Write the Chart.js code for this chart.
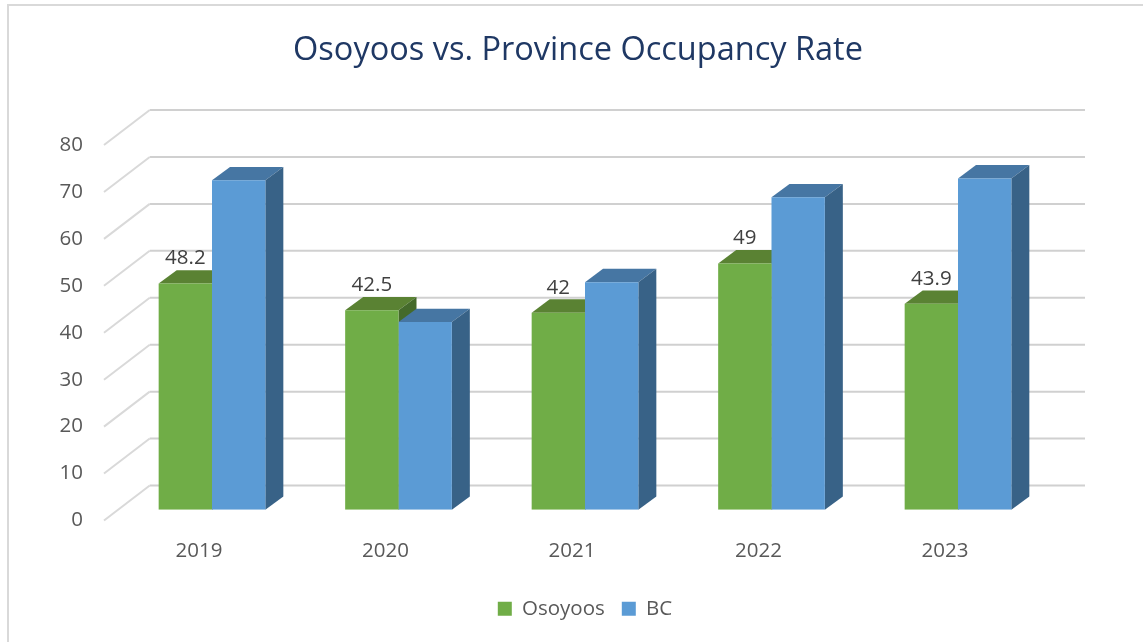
<!DOCTYPE html>
<html>
<head>
<meta charset="utf-8">
<title>Osoyoos vs. Province Occupancy Rate</title>
<script src="https://cdn.jsdelivr.net/npm/chart.js@4"></script>
<style>
    html, body { margin: 0; padding: 0; background: #fff; overflow: hidden; }
    #frame { position: absolute; left: 7px; top: 4px; width: 1136px; height: 638px; border-left: 2px solid #d9d9d9; border-top: 2px solid #d9d9d9; }
    canvas { position: absolute; left: 0; top: 0; }
</style>
</head>
<body>
<div id="frame"></div>
<canvas id="occupancyChart" width="1143" height="642"></canvas>
<script>
// Data
const years = ['2019', '2020', '2021', '2022', '2023'];
const osoyoos = [48.2, 42.5, 42, 52.5, 43.9];
const bc = [70.2, 40, 48.5, 66.6, 70.6];
// the 2022 label does not match its bar height in the original
const osoyoosLabels = ['48.2', '42.5', '42', '49', '43.9'];
const yTicks = [0, 10, 20, 30, 40, 50, 60, 70, 80];

const fontName = '"Open Sans", sans-serif';

// Fake 3D look, offsets are from the front plane of the bars
const barDepthX = 18;
const barDepthY = 13.3;
const wallDepthX = 31;
const wallDepthY = 24.3;
const floorFrontX = 14.75;
const floorFrontY = 10.7;

function drawFace(ctx, points, color) {
    ctx.fillStyle = color;
    ctx.beginPath();
    points.forEach((p, i) => i ? ctx.lineTo(p[0], p[1]) : ctx.moveTo(p[0], p[1]));
    ctx.closePath();
    ctx.fill();
}

const depthPlugin = {
    id: 'depth',
    beforeDatasetsDraw(chart) {
        const ctx = chart.ctx;
        const area = chart.chartArea;
        const yScale = chart.scales.y;
        ctx.save();

        // back wall and side wall grid lines
        yTicks.forEach(tick => {
            const y = yScale.getPixelForValue(tick);
            ctx.lineWidth = 2;
            ctx.strokeStyle = '#d0d0d0';
            ctx.beginPath();
            ctx.moveTo(area.left + wallDepthX, y - wallDepthY);
            ctx.lineTo(area.right + 33.75, y - wallDepthY);
            ctx.stroke();
            ctx.strokeStyle = '#d9d9d9';
            ctx.beginPath();
            ctx.moveTo(area.left - floorFrontX, y + floorFrontY);
            ctx.lineTo(area.left + wallDepthX, y - wallDepthY);
            ctx.stroke();
        });

        // top and side faces, the front faces are the real bars
        chart.data.datasets.forEach((ds, di) => {
            chart.getDatasetMeta(di).data.forEach(bar => {
                const p = bar.getProps(['x', 'y', 'base', 'width'], true);
                const l = p.x - p.width / 2;
                const r = p.x + p.width / 2;
                drawFace(ctx, [[l, p.y], [r, p.y], [r + barDepthX, p.y - barDepthY], [l + barDepthX, p.y - barDepthY]], ds.topColor);
                drawFace(ctx, [[r, p.y], [r + barDepthX, p.y - barDepthY], [r + barDepthX, p.base - barDepthY], [r, p.base]], ds.sideColor);
            });
        });
        ctx.restore();
    },
    afterDatasetsDraw(chart) {
        const ctx = chart.ctx;
        ctx.save();
        ctx.font = '20.5px ' + fontName;
        ctx.fillStyle = '#404040';
        ctx.textAlign = 'center';
        ctx.textBaseline = 'middle';
        chart.getDatasetMeta(0).data.forEach((bar, i) => {
            ctx.fillText(osoyoosLabels[i], bar.x, bar.y - 25);
        });
        ctx.restore();
    }
};

const ctx = document.getElementById('occupancyChart').getContext('2d');

const occupancyChart = new Chart(ctx, {
    type: 'bar',
    data: {
        labels: years,
        datasets: [
            { label: 'Osoyoos', data: osoyoos, backgroundColor: '#70ad47', topColor: '#5a8233', sideColor: '#446a2b' },
            { label: 'BC', data: bc, backgroundColor: '#5b9bd5', topColor: '#4676a3', sideColor: '#386287' }
        ]
    },
    options: {
        responsive: false,
        animation: false,
        layout: { padding: { left: 13, right: 0, top: 0, bottom: 13 } },
        datasets: { bar: { categoryPercentage: 0.572, barPercentage: 1 } },
        scales: {
            x: {
                grid: { display: false },
                border: { display: false },
                afterFit(scale) { scale.height = 71.7; },
                ticks: { color: '#595959', font: { family: fontName, size: 20.5 }, labelOffset: -13, padding: 21, maxRotation: 0 }
            },
            y: {
                min: 0,
                max: 80,
                grid: { display: false, drawTicks: false },
                border: { display: false },
                afterFit(scale) { scale.width = 105.75; },
                afterBuildTicks(scale) { scale.ticks = yTicks.map(v => ({ value: v })); },
                ticks: { color: '#595959', font: { family: fontName, size: 20.5 }, labelOffset: 10.7, padding: 35.75 }
            },
            // empty axis, only keeps the plot clear of the right side so the title stays centred
            spacer: {
                axis: 'y',
                position: 'right',
                grid: { display: false, drawTicks: false },
                border: { display: false },
                ticks: { display: false },
                afterFit(scale) { scale.width = 91.75; }
            }
        },
        plugins: {
            title: {
                display: true,
                text: 'Osoyoos vs. Province Occupancy Rate',
                color: '#1f3864',
                font: { family: fontName, size: 32.5, weight: 'normal' },
                padding: { top: 31.5, bottom: 63.8 }
            },
            legend: {
                position: 'bottom',
                fullSize: false,
                labels: {
                    color: '#595959',
                    font: { family: fontName, size: 20.5 },
                    boxWidth: 14,
                    boxHeight: 14,
                    padding: 17
                }
            },
            tooltip: { enabled: false }
        }
    },
    plugins: [depthPlugin]
});
</script>
</body>
</html>
